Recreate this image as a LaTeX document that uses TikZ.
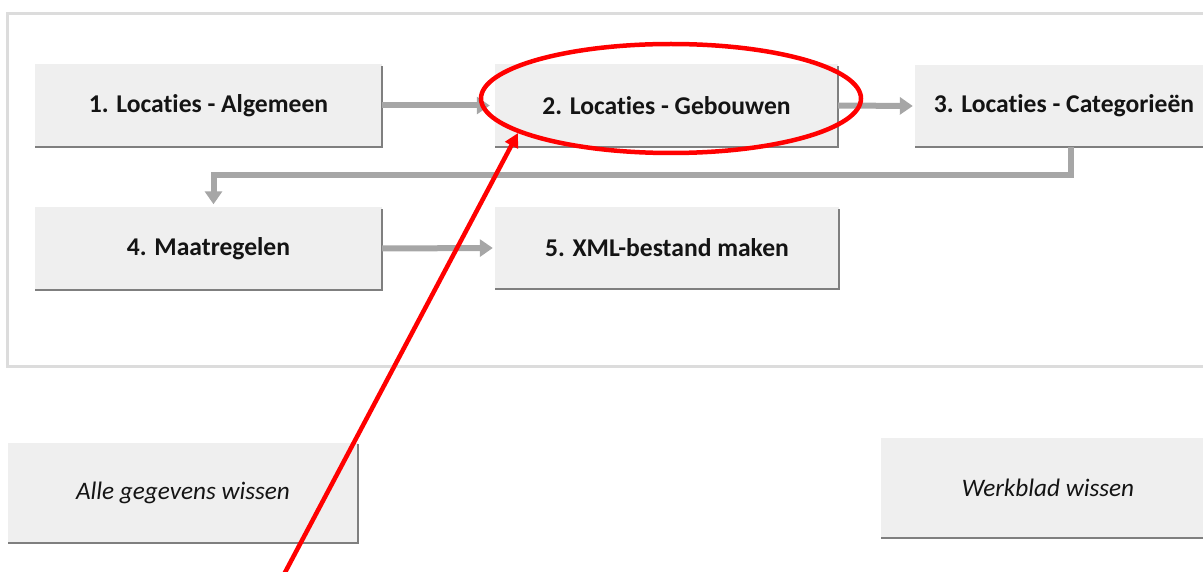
\documentclass[tikz,border=0pt]{standalone}
\usepackage{fontspec}
\setmainfont{Carlito}[Ligatures=NoCommon]
\usetikzlibrary{arrows.meta,shapes.geometric}
\definecolor{boxfill}{HTML}{EFEFEF}
\definecolor{shadegray}{HTML}{7F7F7F}
\definecolor{flowgray}{HTML}{A6A6A6}
\definecolor{framegray}{HTML}{DCDCDC}
\definecolor{markred}{HTML}{FF0000}
\begin{document}
\begin{tikzpicture}[x=1pt,y=-1pt,
  basebox/.style={fill=boxfill, inner sep=0pt, text=black!92},
  stepbox/.style={basebox, minimum width=#1, minimum height=82pt, font=\fontsize{25.6}{30}\selectfont\bfseries},
  actbox/.style={basebox, minimum width=#1, minimum height=100pt, font=\fontsize{25.2}{30}\selectfont\itshape},
  shadowline/.style={draw=shadegray, line width=2.2pt},
  flow/.style={draw=flowgray, line width=6pt, -{Triangle[length=13pt,width=17pt]}},
  marker/.style={draw=markred, line width=4.5pt},
]
\useasboundingbox (0,0) rectangle (1203,572);
\clip (0,0) rectangle (1203,572);
\draw[framegray, line width=3pt] (7,14) rectangle (1220,366);

\node[stepbox=347pt] (b1) at (208.5,105.5) {\raisebox{-1.5pt}{1. Locaties - Algemeen}};
\node[stepbox=343pt] (b2) at (666.5,105.5) {\raisebox{-1.5pt}{2. Locaties - Gebouwen}};
\node[stepbox=298pt] (b3) at (1064,106) {\raisebox{-1.5pt}{3. Locaties - Categorieën}};
\node[stepbox=347pt] (b4) at (208.5,248.5) {\raisebox{-1.5pt}{4. Maatregelen}};
\node[stepbox=344pt] (b5) at (667,248) {\raisebox{-1.5pt}{5. XML-bestand maken}};
\node[actbox=350pt] (clearall) at (183,492.5) {Alle gegevens wissen};
\node[actbox=334pt] (clearsheet) at (1048,487.5) {Werkblad wissen};

\foreach \n in {b1,b2,b3,b4,b5,clearall,clearsheet}{
  \draw[shadowline] ([yshift=-2pt]\n.north east) -- (\n.south east) -- (\n.south west);
}

\draw[flow] (b1.east) -- ([xshift=-5pt]b2.west);
\draw[flow] (b2.east) -- ([xshift=-2pt]b3.west);
\draw[flow] ([xshift=7pt]b3.south) -- ++(0,28) -| ([xshift=5pt,yshift=3pt]b4.north);
\draw[flow] (b4.east) -- ([xshift=-2pt]b5.west);

\node[ellipse, marker, minimum width=380pt, minimum height=109pt, inner sep=0pt] (hl) at (671,98.5) {};
\coordinate (tail) at (281,580);
\coordinate (tip) at (518,133);
\draw[marker, -{Triangle[length=14pt,width=14pt]}] (tail) -- (tip);
\end{tikzpicture}
\end{document}
